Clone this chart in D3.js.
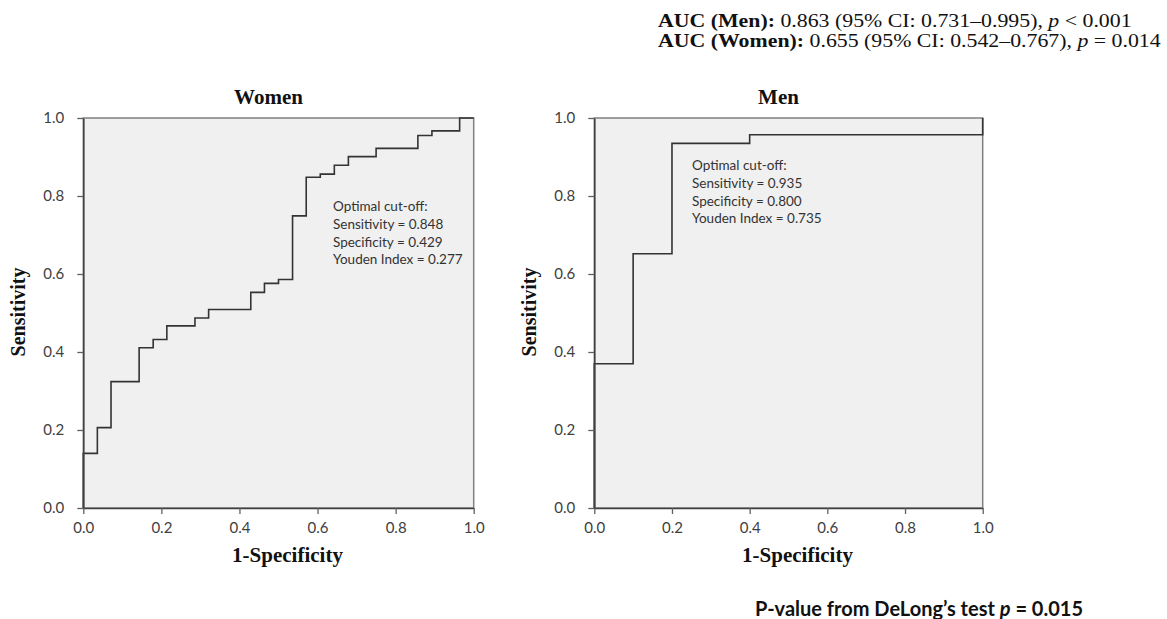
<!DOCTYPE html>
<html><head><meta charset="utf-8">
<script src="https://cdn.jsdelivr.net/npm/d3@7"></script>
<style>body{margin:0;background:#fff;} svg{display:block}</style>
</head><body><svg id="c" width="1167" height="619"></svg>
<script>
// ---- data ----
const womenFpr = [0,0,0.036,0.071,0.143,0.179,0.214,0.286,0.321,0.429,0.464,0.500,0.536,0.571,0.607,0.643,0.679,0.750,0.857,0.893,0.964,1.0];
const womenTpr = [0,0.140,0.206,0.324,0.411,0.432,0.467,0.487,0.509,0.553,0.576,0.586,0.749,0.848,0.856,0.879,0.901,0.922,0.955,0.967,1.0,1.0];
const menFpr = [0,0,0.1,0.2,0.4,1.0];
const menTpr = [0,0.370,0.652,0.935,0.957,1.0];
const tickValues = [0,0.2,0.4,0.6,0.8,1.0];
const panelTitles = ["Women","Men"];
const annotWomen = ["Optimal cut-off:","Sensitivity = 0.848","Specificity = 0.429","Youden Index = 0.277"];
const annotMen = ["Optimal cut-off:","Sensitivity = 0.935","Specificity = 0.800","Youden Index = 0.735"];
const xLabel = "1-Specificity";
const yLabel = "Sensitivity";

const svg = d3.select("#c");
const serif = "'Liberation Serif','Times New Roman',serif";
const sans = "Lato,'Open Sans',sans-serif";

function panel(cfg){
  const x = d3.scaleLinear().domain([0,1]).range([cfg.x0, cfg.x1]);
  const y = d3.scaleLinear().domain([0,1]).range([cfg.y0, cfg.y1]);
  const g = svg.append("g");
  g.append("rect").attr("x",x(0)).attr("y",y(1)).attr("width",x(1)-x(0)).attr("height",y(0)-y(1))
    .attr("fill","#f0f0f0").attr("stroke","#808080").attr("stroke-width",1.5);
  const pts = cfg.fpr.map((f,i)=>[f,cfg.tpr[i]]);
  const line = d3.line().x(d=>x(d[0])).y(d=>y(d[1])).curve(d3.curveStepAfter);
  g.append("path").datum(pts).attr("d",line).attr("fill","none").attr("stroke","#333").attr("stroke-width",1.6);
  const fmt = d3.format(".1f");
  const xa = g.append("g").attr("transform",`translate(0,${y(0)})`)
    .call(d3.axisBottom(x).tickValues(tickValues).tickFormat(fmt).tickSize(6).tickSizeOuter(0).tickPadding(8));
  const ya = g.append("g").attr("transform",`translate(${x(0)},0)`)
    .call(d3.axisLeft(y).tickValues(tickValues).tickFormat(fmt).tickSize(6).tickSizeOuter(0).tickPadding(13));
  [xa,ya].forEach(a=>{
    a.select(".domain").attr("stroke","#404040").attr("stroke-width",1.6);
    a.selectAll(".tick line").attr("stroke","#606060").attr("stroke-width",1.3);
    a.selectAll(".tick text").attr("fill","#404040").style("font-family",sans).style("font-size","15px");
  });
  const cx = (x(0)+x(1))/2;
  g.append("text").attr("x",cx-10).attr("y",104).attr("text-anchor","middle")
    .style("font-family",serif).style("font-weight","bold").style("font-size","21px").attr("fill","#111").text(cfg.title);
  g.append("text").attr("x",cx+9).attr("y",562).attr("text-anchor","middle")
    .style("font-family",serif).style("font-weight","bold").style("font-size","21px").attr("fill","#111").text(xLabel);
  g.append("text").attr("transform",`translate(${cfg.ylx},312) rotate(-90)`).attr("text-anchor","middle")
    .style("font-family",serif).style("font-weight","bold").style("font-size","20px").attr("fill","#111").text(yLabel);
  const at = g.append("text").style("font-family",sans).style("font-size","13.5px").attr("fill","#333");
  cfg.annot.forEach((s,i)=>at.append("tspan").attr("x",cfg.ax).attr("y",cfg.ay+i*17.8).text(s));
}

panel({x0:83.3,x1:473.7,y0:508,y1:118,fpr:womenFpr,tpr:womenTpr,title:panelTitles[0],ylx:25,annot:annotWomen,ax:333,ay:211});
panel({x0:594.3,x1:982.7,y0:508,y1:118,fpr:menFpr,tpr:menTpr,title:panelTitles[1],ylx:536,annot:annotMen,ax:692,ay:170});

// AUC text (the reference face is drawn slightly wide)
const auc = svg.append("text").attr("transform","translate(658,0) scale(1.12,1)")
  .style("font-family",serif).style("font-size","19.5px").attr("fill","#111");
const l1 = auc.append("tspan").attr("x",0).attr("y",27);
l1.append("tspan").style("font-weight","bold").text("AUC (Men):");
l1.append("tspan").text(" 0.863 (95% CI: 0.731–0.995), ");
l1.append("tspan").style("font-style","italic").text("p");
l1.append("tspan").text(" < 0.001");
const l2 = auc.append("tspan").attr("x",0).attr("y",47);
l2.append("tspan").style("font-weight","bold").text("AUC (Women):");
l2.append("tspan").text(" 0.655 (95% CI: 0.542–0.767), ");
l2.append("tspan").style("font-style","italic").text("p");
l2.append("tspan").text(" = 0.014");

const bt = svg.append("text").attr("x",755).attr("y",616).style("font-family",sans).style("font-weight","bold").style("font-size","20px").attr("fill","#111");
bt.append("tspan").text("P-value from DeLong’s test ");
bt.append("tspan").style("font-style","italic").text("p");
bt.append("tspan").text(" = 0.015");
</script></body></html>
